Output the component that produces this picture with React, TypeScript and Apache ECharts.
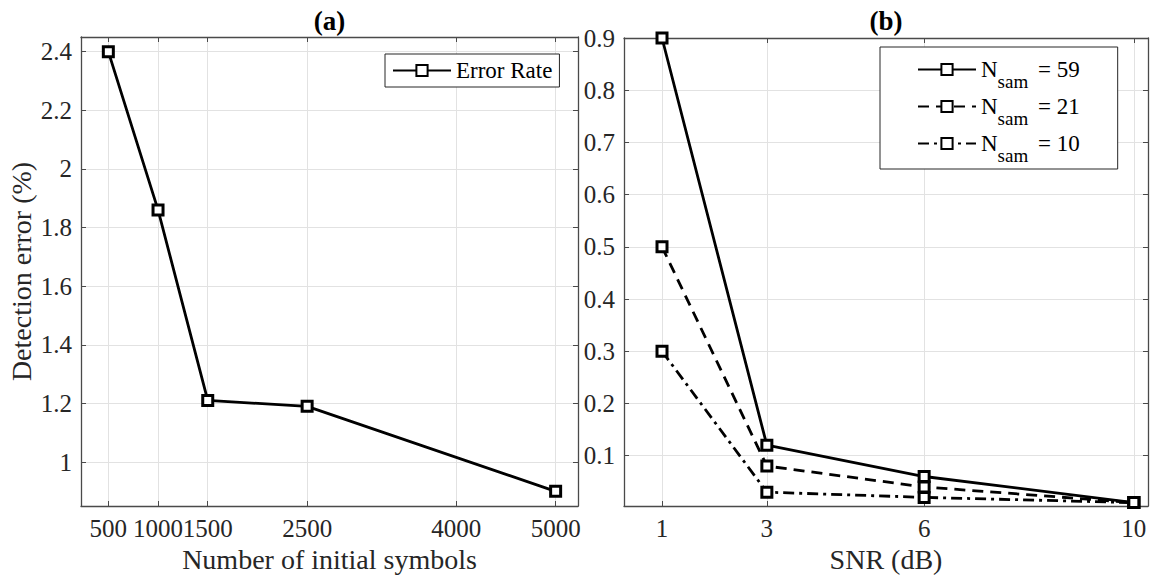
import React, { useEffect, useRef } from "react";
import * as echarts from "echarts";

// Panel (a)
const symbolCounts = [500, 1000, 1500, 2500, 5000];
const errorRate = [2.4, 1.86, 1.21, 1.19, 0.9];
const xTicksA = [500, 1000, 1500, 2500, 4000, 5000];
const yTicksA = [1, 1.2, 1.4, 1.6, 1.8, 2, 2.2, 2.4];

// Panel (b)
const snrDb = [1, 3, 6, 10];
const nsam59 = [0.9, 0.12, 0.06, 0.01];
const nsam21 = [0.5, 0.08, 0.04, 0.01];
const nsam10 = [0.3, 0.03, 0.02, 0.01];
const xTicksB = [1, 3, 6, 10];
const yTicksB = [0.1, 0.2, 0.3, 0.4, 0.5, 0.6, 0.7, 0.8, 0.9];
const seriesNamesB = ["N59", "N21", "N10"];
const legendLabelsB: Record<string, string> = {
  N59: "{n|N}{s|sam}{g| = 59}",
  N21: "{n|N}{s|sam}{g| = 21}",
  N10: "{n|N}{s|sam}{g| = 10}",
};

const FONT = "Liberation Serif";
const AXC = "#4a4a4a";
const TXT = "#262626";
const GRIDC = "#e2e2e2";

function xAxisDef(gridIndex: number, min: number, max: number, ticks: number[], name: string, top: boolean) {
  return {
    type: "value",
    gridIndex,
    min,
    max,
    position: top ? "top" : "bottom",
    name: top ? "" : name,
    nameLocation: "middle",
    nameGap: 39,
    nameTextStyle: { fontFamily: FONT, fontSize: 28, color: TXT },
    axisLine: { show: true, onZero: false, lineStyle: { color: AXC, width: 1.3 } },
    axisTick: { show: true, inside: true, length: 5, customValues: ticks, lineStyle: { color: AXC, width: 1 } },
    axisLabel: {
      show: !top,
      customValues: ticks,
      fontFamily: FONT,
      fontSize: 25,
      color: TXT,
      margin: 10,
      formatter: (v: number) => String(v),
    },
    splitLine: { show: !top, lineStyle: { color: GRIDC, width: 1 } },
  };
}

function yAxisDef(gridIndex: number, min: number, max: number, ticks: number[], name: string, right: boolean) {
  return {
    type: "value",
    gridIndex,
    min,
    max,
    position: right ? "right" : "left",
    name: right ? "" : name,
    nameLocation: "middle",
    nameGap: 46,
    nameTextStyle: { fontFamily: FONT, fontSize: 28, color: TXT },
    axisLine: { show: true, onZero: false, lineStyle: { color: AXC, width: 1.3 } },
    axisTick: { show: true, inside: true, length: 5, customValues: ticks, lineStyle: { color: AXC, width: 1 } },
    axisLabel: {
      show: !right,
      customValues: ticks,
      fontFamily: FONT,
      fontSize: 25,
      color: TXT,
      margin: 9,
      formatter: (v: number) => String(v),
    },
    splitLine: { show: !right, lineStyle: { color: GRIDC, width: 1 } },
  };
}

const markerCommon = {
  symbol: "rect",
  symbolSize: 10,
  itemStyle: { color: "#ffffff", borderColor: "#000", borderWidth: 3 },
};

export default function App() {
  const ref = useRef<HTMLDivElement>(null);
  useEffect(() => {
    if (!ref.current) return;
    const chart = echarts.init(ref.current, null, { renderer: "svg" });
    const option: any = {
      animation: false,
      backgroundColor: "#ffffff",
      grid: [
        { left: 81, top: 37, width: 497, height: 469 },
        { left: 624, top: 38, width: 524, height: 468 },
      ],
      xAxis: [
        xAxisDef(0, 225, 5225, xTicksA, "Number of initial symbols", false),
        xAxisDef(0, 225, 5225, xTicksA, "", true),
        xAxisDef(1, 0.275, 10.27, xTicksB, "SNR (dB)", false),
        xAxisDef(1, 0.275, 10.27, xTicksB, "", true),
      ],
      yAxis: [
        yAxisDef(0, 0.85, 2.45, yTicksA, "Detection error (%)", false),
        yAxisDef(0, 0.85, 2.45, yTicksA, "", true),
        yAxisDef(1, 0.0035, 0.9, yTicksB, "", false),
        yAxisDef(1, 0.0035, 0.9, yTicksB, "", true),
      ],
      legend: [
        {
          data: ["Error Rate"],
          left: 385,
          top: 54,
          orient: "vertical",
          padding: [5, 7, 5, 7],
          borderColor: "#262626",
          borderWidth: 1,
          backgroundColor: "#ffffff",
          itemWidth: 58,
          itemHeight: 14,
          textStyle: { fontFamily: FONT, fontSize: 23, color: "#000" },
        },
        {
          data: seriesNamesB,
          left: 880,
          top: 47,
          orient: "vertical",
          padding: [1, 38, 4, 37],
          itemGap: -6,
          borderColor: "#262626",
          borderWidth: 1,
          backgroundColor: "#ffffff",
          itemWidth: 58,
          itemHeight: 14,
          formatter: (name: string) => legendLabelsB[name] || name,
          textStyle: {
            fontFamily: FONT,
            fontSize: 23,
            color: "#000",
            rich: {
              n: { fontFamily: FONT, fontSize: 23, color: "#000", lineHeight: 23, verticalAlign: "middle" },
              g: { fontFamily: FONT, fontSize: 23, color: "#000", lineHeight: 23, verticalAlign: "middle", padding: [0, 0, 0, 4] },
              s: { fontFamily: FONT, fontSize: 19, color: "#000", lineHeight: 23, padding: [24, 0, 0, 0], verticalAlign: "middle" },
            },
          },
        },
      ],
      graphic: [
        {
          type: "text",
          x: 329.5,
          y: 21,
          style: { text: "(a)", font: `bold 27px "${FONT}"`, fill: "#000", textAlign: "center", textVerticalAlign: "middle" },
        },
        {
          type: "text",
          x: 886,
          y: 21,
          style: { text: "(b)", font: `bold 27px "${FONT}"`, fill: "#000", textAlign: "center", textVerticalAlign: "middle" },
        },
      ],
      series: [
        {
          name: "Error Rate",
          type: "line",
          xAxisIndex: 0,
          yAxisIndex: 0,
          data: symbolCounts.map((x, i) => [x, errorRate[i]]),
          lineStyle: { color: "#000", width: 2.8 },
          ...markerCommon,
        },
        {
          name: "N59",
          type: "line",
          xAxisIndex: 2,
          yAxisIndex: 2,
          data: snrDb.map((x, i) => [x, nsam59[i]]),
          lineStyle: { color: "#000", width: 2.8 },
          ...markerCommon,
        },
        {
          name: "N21",
          type: "line",
          xAxisIndex: 2,
          yAxisIndex: 2,
          data: snrDb.map((x, i) => [x, nsam21[i]]),
          lineStyle: { color: "#000", width: 2.8, type: [11, 7] },
          ...markerCommon,
        },
        {
          name: "N10",
          type: "line",
          xAxisIndex: 2,
          yAxisIndex: 2,
          data: snrDb.map((x, i) => [x, nsam10[i]]),
          lineStyle: { color: "#000", width: 2.8, type: [11, 5, 3, 5] },
          ...markerCommon,
        },
      ],
    };
    chart.setOption(option);
    return () => chart.dispose();
  }, []);
  return (
    <div
      ref={ref}
      style={{ position: "fixed", left: 0, top: 0, width: 1152, height: 579, background: "#fff" }}
    />
  );
}
